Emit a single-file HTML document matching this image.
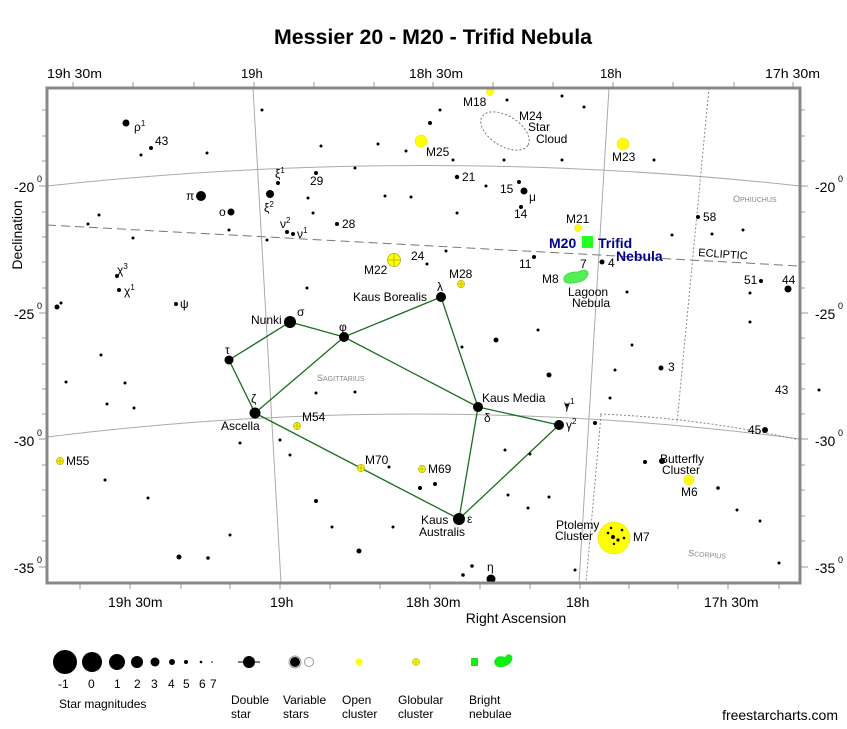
<!DOCTYPE html>
<html><head><meta charset="utf-8"><style>
html,body{margin:0;padding:0;background:#fff}
svg{display:block}
text{font-family:"Liberation Sans",sans-serif;fill:#000}
.n{font-family:"Liberation Sans Narrow","Liberation Sans",sans-serif}
</style></head><body>
<svg width="847" height="729" viewBox="0 0 847 729" xmlns="http://www.w3.org/2000/svg">
<rect width="847" height="729" fill="#fff"/>
<text x="433" y="44" font-size="21" font-weight="bold" text-anchor="middle" class="n" textLength="318" lengthAdjust="spacingAndGlyphs">Messier 20 - M20 - Trifid Nebula</text>
<g font-size="13" class="n">
<text x="47" y="78" textLength="55" lengthAdjust="spacingAndGlyphs">19h 30m</text>
<text x="241" y="78">19h</text>
<text x="409" y="78" textLength="54" lengthAdjust="spacingAndGlyphs">18h 30m</text>
<text x="600" y="78">18h</text>
<text x="765" y="78" textLength="55" lengthAdjust="spacingAndGlyphs">17h 30m</text>
</g>
<g font-size="14">
<text x="108" y="607">19h 30m</text>
<text x="270" y="607">19h</text>
<text x="406" y="607">18h 30m</text>
<text x="566" y="607">18h</text>
<text x="704" y="607">17h 30m</text>
<text x="516" y="623" text-anchor="middle">Right Ascension</text>
<text transform="translate(22,235) rotate(-90)" text-anchor="middle">Declination</text>
<text x="14" y="192">-20</text><text x="37" y="182" font-size="9">0</text>
<text x="14" y="319">-25</text><text x="37" y="309" font-size="9">0</text>
<text x="14" y="446">-30</text><text x="37" y="436" font-size="9">0</text>
<text x="14" y="573">-35</text><text x="37" y="563" font-size="9">0</text>
<text x="815" y="192">-20</text><text x="838" y="182" font-size="9">0</text>
<text x="815" y="319">-25</text><text x="838" y="309" font-size="9">0</text>
<text x="815" y="446">-30</text><text x="838" y="436" font-size="9">0</text>
<text x="815" y="573">-35</text><text x="838" y="563" font-size="9">0</text>
</g>
<g stroke="#999" stroke-width="1">
<path d="M73 88v-6M133 88v-6M194 88v-6M254 88v-6M314 88v-6M374 88v-6M433 88v-6M493 88v-6M553 88v-6M613 88v-6M673 88v-6M734 88v-6M793 88v-6"/>
<path d="M80 583v6M130 583v6M181 583v6M230 583v6M280 583v6M330 583v6M380 583v6M430 583v6M480 583v6M530 583v6M580 583v6M629 583v6M678 583v6M728 583v6M779 583v6"/>
<path d="M47 110h-5M47 136h-5M47 161h-5M47 212h-5M47 237h-5M47 262h-5M47 288h-5M47 338h-5M47 364h-5M47 389h-5M47 414h-5M47 465h-5M47 490h-5M47 516h-5M47 541h-5"/>
<path d="M800 110h5M800 136h5M800 161h5M800 212h5M800 237h5M800 262h5M800 288h5M800 338h5M800 364h5M800 389h5M800 414h5M800 465h5M800 490h5M800 516h5M800 541h5"/>
<path d="M800 186h8M800 313h8M800 439h8M800 567h8M47 186h-8M47 313h-8M47 439h-8M47 567h-8"/>
</g>
<g fill="none" stroke="#aaa" stroke-width="1">
<path d="M253 88L281 583"/>
<path d="M609 88L579 583"/>
<path d="M47 186Q425 145 800 186"/>
<path d="M47 437Q425 390 800 439"/>
</g>
<path d="M47 225L800 266" stroke="#777" stroke-dasharray="9,5" fill="none"/>
<g stroke="#888" stroke-dasharray="2,2" fill="none">
<path d="M709 88L677 423"/>
<path d="M601 415L586 583"/>
<path d="M600 414Q700 418 800 440"/>
</g>
<g stroke="#1a6e1a" stroke-width="1.3" fill="none">
<path d="M229 360L290 322L344 337L441 297L478 407L559 425L459 519L478 407L344 337L255 413L229 360M255 413L459 519"/>
</g>
<g font-size="9">
<text x="317" y="381" style="fill:#888">S<tspan font-size="7">AGITTARIUS</tspan></text>
<text x="733" y="202" style="fill:#888">O<tspan font-size="7">PHIUCHUS</tspan></text>
<text x="688" y="556" style="fill:#888" transform="rotate(4 688 556)">S<tspan font-size="7">CORPIUS</tspan></text>
</g>
<text x="698" y="256" font-size="11" transform="rotate(4 698 256)">ECLIPTIC</text>
<ellipse cx="505" cy="131" rx="27" ry="15" transform="rotate(32 505 131)" fill="none" stroke="#777" stroke-dasharray="2,2"/>
<g fill="#ff0" stroke="#dd0" stroke-width="0.5">
<circle cx="490" cy="92" r="3.5"/>
<circle cx="421" cy="141" r="6"/>
<circle cx="623" cy="144" r="6"/>
<circle cx="578" cy="228" r="3.5"/>
<circle cx="689" cy="480" r="5"/>
<circle cx="614" cy="538" r="16"/>
</g>
<g fill="#ff0" stroke="#aa0" stroke-width="0.7">
<circle cx="394" cy="260" r="6.5"/><path d="M387.5 260h13M394 253.5v13" />
<circle cx="461" cy="284" r="3.5"/><path d="M457.5 284h7M461 280.5v7"/>
<circle cx="297" cy="426" r="3.5"/><path d="M293.5 426h7M297 422.5v7"/>
<circle cx="361" cy="468" r="3.5"/><path d="M357.5 468h7M361 464.5v7"/>
<circle cx="422" cy="469" r="3.5"/><path d="M418.5 469h7M422 465.5v7"/>
<circle cx="60" cy="461" r="3.5"/><path d="M56.5 461h7M60 457.5v7"/>
</g>
<rect x="582" y="236" width="11" height="12" fill="#2f2"/>
<path d="M564 278Q566 272 578 272Q588 268 588 274Q586 282 572 283Q563 284 564 278Z" fill="#5e5" stroke="#4d4"/>
<g fill="#000">
<circle cx="290" cy="322" r="6"/><circle cx="344" cy="337" r="5"/><circle cx="441" cy="297" r="5"/>
<circle cx="478" cy="407" r="5"/><circle cx="559" cy="425" r="5"/><circle cx="459" cy="519" r="6"/>
<circle cx="255" cy="413" r="5.5"/><circle cx="229" cy="360" r="4.5"/><circle cx="491" cy="579" r="4.5"/>
<circle cx="201" cy="196" r="5"/><circle cx="231" cy="212" r="3.5"/><circle cx="270" cy="194" r="4"/>
<circle cx="126" cy="123" r="3.5"/><circle cx="524" cy="191" r="3.5"/><circle cx="788" cy="289" r="3.5"/>
<circle cx="765" cy="430" r="3"/><circle cx="602" cy="262" r="2.5"/><circle cx="662" cy="461" r="3"/>
<circle cx="457" cy="177" r="2.2"/><circle cx="316" cy="173" r="2"/><circle cx="337" cy="224" r="2"/>
<circle cx="287" cy="232" r="2"/><circle cx="293" cy="234" r="2"/><circle cx="278" cy="183" r="2"/>
<circle cx="519" cy="182" r="2"/><circle cx="521" cy="207" r="2"/><circle cx="534" cy="257" r="2"/>
<circle cx="698" cy="217" r="2"/><circle cx="761" cy="281" r="2"/><circle cx="661" cy="368" r="2.5"/>
<circle cx="819" cy="390" r="1.5"/><circle cx="119" cy="290" r="2"/><circle cx="117" cy="276" r="2"/>
<circle cx="176" cy="304" r="2"/><circle cx="57" cy="307" r="2.5"/><circle cx="151" cy="148" r="2"/>
<circle cx="430" cy="123" r="2"/><circle cx="420" cy="488" r="2"/><circle cx="435" cy="484" r="2"/>
<circle cx="359" cy="551" r="2.5"/><circle cx="179" cy="557" r="2.5"/><circle cx="316" cy="501" r="2"/>
<circle cx="496" cy="340" r="2.5"/><circle cx="549" cy="375" r="2.5"/><circle cx="595" cy="423" r="2"/>
<circle cx="645" cy="462" r="2"/><circle cx="718" cy="488" r="1.8"/><circle cx="567" cy="405" r="1.5"/>
<circle cx="463" cy="575" r="1.8"/><circle cx="472" cy="566" r="1.8"/><circle cx="208" cy="558" r="1.8"/>
<circle cx="262" cy="110" r="1.5"/><circle cx="229" cy="230" r="1.5"/><circle cx="141" cy="155" r="1.5"/>
<circle cx="101" cy="355" r="1.5"/><circle cx="107" cy="404" r="1.5"/><circle cx="134" cy="408" r="1.5"/>
<circle cx="125" cy="383" r="1.5"/><circle cx="133" cy="238" r="1.5"/><circle cx="207" cy="153" r="1.5"/>
<circle cx="307" cy="288" r="1.5"/><circle cx="267" cy="240" r="1.5"/><circle cx="355" cy="392" r="1.5"/>
<circle cx="316" cy="393" r="1.5"/><circle cx="240" cy="443" r="1.5"/><circle cx="280" cy="440" r="1.5"/>
<circle cx="290" cy="455" r="1.5"/><circle cx="389" cy="467" r="1.5"/><circle cx="332" cy="527" r="1.5"/>
<circle cx="393" cy="527" r="1.5"/><circle cx="549" cy="497" r="1.5"/><circle cx="528" cy="508" r="1.5"/>
<circle cx="575" cy="570" r="1.5"/><circle cx="737" cy="510" r="1.5"/><circle cx="760" cy="521" r="1.5"/>
<circle cx="779" cy="563" r="1.5"/><circle cx="610" cy="398" r="1.5"/><circle cx="615" cy="370" r="1.5"/>
<circle cx="632" cy="345" r="1.5"/><circle cx="750" cy="322" r="1.5"/><circle cx="712" cy="234" r="1.5"/>
<circle cx="743" cy="230" r="1.5"/><circle cx="672" cy="235" r="1.5"/><circle cx="627" cy="292" r="1.5"/>
<circle cx="584" cy="107" r="1.5"/><circle cx="562" cy="160" r="1.5"/><circle cx="654" cy="160" r="1.5"/>
<circle cx="504" cy="160" r="1.5"/><circle cx="453" cy="160" r="1.5"/><circle cx="406" cy="151" r="1.5"/>
<circle cx="378" cy="144" r="1.5"/><circle cx="355" cy="168" r="1.5"/><circle cx="321" cy="146" r="1.5"/>
<circle cx="308" cy="198" r="1.5"/><circle cx="313" cy="213" r="1.5"/><circle cx="385" cy="196" r="1.5"/>
<circle cx="411" cy="197" r="1.5"/><circle cx="457" cy="213" r="1.5"/><circle cx="486" cy="186" r="1.5"/>
<circle cx="507" cy="100" r="1.5"/><circle cx="562" cy="96" r="1.5"/><circle cx="440" cy="110" r="1.5"/>
<circle cx="427" cy="264" r="1.5"/><circle cx="446" cy="251" r="1.5"/><circle cx="99" cy="215" r="1.5"/>
<circle cx="88" cy="224" r="1.5"/><circle cx="61" cy="303" r="1.5"/><circle cx="66" cy="382" r="1.5"/>
<circle cx="230" cy="535" r="1.5"/><circle cx="148" cy="498" r="1.5"/><circle cx="105" cy="480" r="1.5"/>
<circle cx="538" cy="330" r="1.5"/><circle cx="462" cy="347" r="1.5"/><circle cx="505" cy="450" r="1.5"/>
<circle cx="530" cy="454" r="1.5"/><circle cx="508" cy="495" r="1.5"/><circle cx="750" cy="293" r="1.5"/>
</g>
<g fill="#000"><circle cx="613" cy="537" r="2"/><circle cx="618" cy="540" r="1.6"/><circle cx="608" cy="533" r="1.3"/><circle cx="622" cy="530" r="1.3"/><circle cx="624" cy="538" r="1.3"/><circle cx="611" cy="528" r="1.2"/><circle cx="614" cy="544" r="1.2"/></g>
<g font-size="12">
<text x="134" y="131">ρ<tspan font-size="8" dy="-5">1</tspan></text>
<text x="155" y="145">43</text>
<text x="186" y="200">π</text>
<text x="219" y="216">o</text>
<text x="275" y="178">ξ<tspan font-size="8" dy="-5">1</tspan></text>
<text x="264" y="212">ξ<tspan font-size="8" dy="-5">2</tspan></text>
<text x="310" y="185">29</text>
<text x="342" y="228">28</text>
<text x="280" y="228">ν<tspan font-size="8" dy="-5">2</tspan></text>
<text x="297" y="238">ν<tspan font-size="8" dy="-5">1</tspan></text>
<text x="117" y="274">χ<tspan font-size="8" dy="-5">3</tspan></text>
<text x="124" y="295">χ<tspan font-size="8" dy="-5">1</tspan></text>
<text x="180" y="308">ψ</text>
<text x="364" y="274">M22</text>
<text x="411" y="260">24</text>
<text x="426" y="156">M25</text>
<text x="463" y="106">M18</text>
<text x="519" y="120">M24</text>
<text x="528" y="131">Star</text>
<text x="536" y="143">Cloud</text>
<text x="612" y="161">M23</text>
<text x="462" y="181">21</text>
<text x="500" y="193">15</text>
<text x="529" y="201">μ</text>
<text x="514" y="218">14</text>
<text x="566" y="223">M21</text>
<text x="519" y="268">11</text>
<text x="580" y="268">7</text>
<text x="608" y="267">4</text>
<text x="542" y="283">M8</text>
<text x="568" y="296">Lagoon</text>
<text x="572" y="307">Nebula</text>
<text x="703" y="221">58</text>
<text x="744" y="284">51</text>
<text x="782" y="284">44</text>
<text x="668" y="371">3</text>
<text x="775" y="394">43</text>
<text x="748" y="434">45</text>
<text x="449" y="278">M28</text>
<text x="437" y="291">λ</text>
<text x="353" y="301">Kaus Borealis</text>
<text x="251" y="324">Nunki</text>
<text x="297" y="316">σ</text>
<text x="339" y="331">φ</text>
<text x="225" y="354">τ</text>
<text x="251" y="403">ζ</text>
<text x="221" y="430">Ascella</text>
<text x="302" y="421">M54</text>
<text x="365" y="464">M70</text>
<text x="428" y="473">M69</text>
<text x="66" y="465">M55</text>
<text x="482" y="402">Kaus Media</text>
<text x="484" y="422">δ</text>
<text x="564" y="409">γ<tspan font-size="8" dy="-5">1</tspan></text>
<text x="566" y="429">γ<tspan font-size="8" dy="-5">2</tspan></text>
<text x="660" y="463">Butterfly</text>
<text x="662" y="474">Cluster</text>
<text x="681" y="496">M6</text>
<text x="421" y="524">Kaus</text>
<text x="419" y="536">Australis</text>
<text x="467" y="523">ε</text>
<text x="487" y="571">η</text>
<text x="556" y="529">Ptolemy</text>
<text x="555" y="540">Cluster</text>
<text x="633" y="541">M7</text>
</g>
<g font-size="14" font-weight="bold">
<text x="549" y="248" style="fill:#00008b">M20</text>
<text x="598" y="248" style="fill:#00008b">Trifid</text>
<text x="616" y="261" style="fill:#00008b">Nebula</text>
</g>
<rect x="47" y="88" width="753" height="495" fill="none" stroke="#888" stroke-width="3"/>
<g fill="#000">
<circle cx="65" cy="662" r="12"/><circle cx="92" cy="662" r="10"/><circle cx="117" cy="662" r="8"/>
<circle cx="137" cy="662" r="6"/><circle cx="155" cy="662" r="4.5"/><circle cx="172" cy="662" r="3"/>
<circle cx="186" cy="662" r="2"/><circle cx="201" cy="662" r="1.3"/><circle cx="212" cy="662" r="0.8"/>
<circle cx="249" cy="662" r="6"/><circle cx="295" cy="662" r="5"/>
</g>
<path d="M238 662h22" stroke="#000"/>
<circle cx="295" cy="662" r="6" fill="none" stroke="#999"/>
<circle cx="309" cy="662" r="4.5" fill="#fff" stroke="#999"/>
<circle cx="359" cy="662" r="3.5" fill="#ff0"/>
<circle cx="416" cy="662" r="3.5" fill="#ff0" stroke="#aa0" stroke-width="0.6"/><path d="M412.5 662h7M416 658.5v7" stroke="#aa0" stroke-width="0.6"/>
<rect x="471" y="658" width="7" height="8" fill="#1e1"/>
<path d="M494 662Q496 654 505 657Q508 652 512 656Q514 662 506 666Q496 670 494 662Z" fill="#1e1"/>
<g font-size="12">
<text x="58" y="688">-1</text><text x="88" y="688">0</text><text x="114" y="688">1</text><text x="134" y="688">2</text>
<text x="151" y="688">3</text><text x="168" y="688">4</text><text x="183" y="688">5</text><text x="199" y="688">6</text><text x="210" y="688">7</text>
<text x="59" y="708">Star magnitudes</text>
<text x="231" y="704">Double</text><text x="231" y="718">star</text>
<text x="283" y="704">Variable</text><text x="283" y="718">stars</text>
<text x="342" y="704">Open</text><text x="342" y="718">cluster</text>
<text x="398" y="704">Globular</text><text x="398" y="718">cluster</text>
<text x="469" y="704">Bright</text><text x="469" y="718">nebulae</text>
</g>
<text x="838" y="720" font-size="14" text-anchor="end">freestarcharts.com</text>
</svg>
</body></html>
